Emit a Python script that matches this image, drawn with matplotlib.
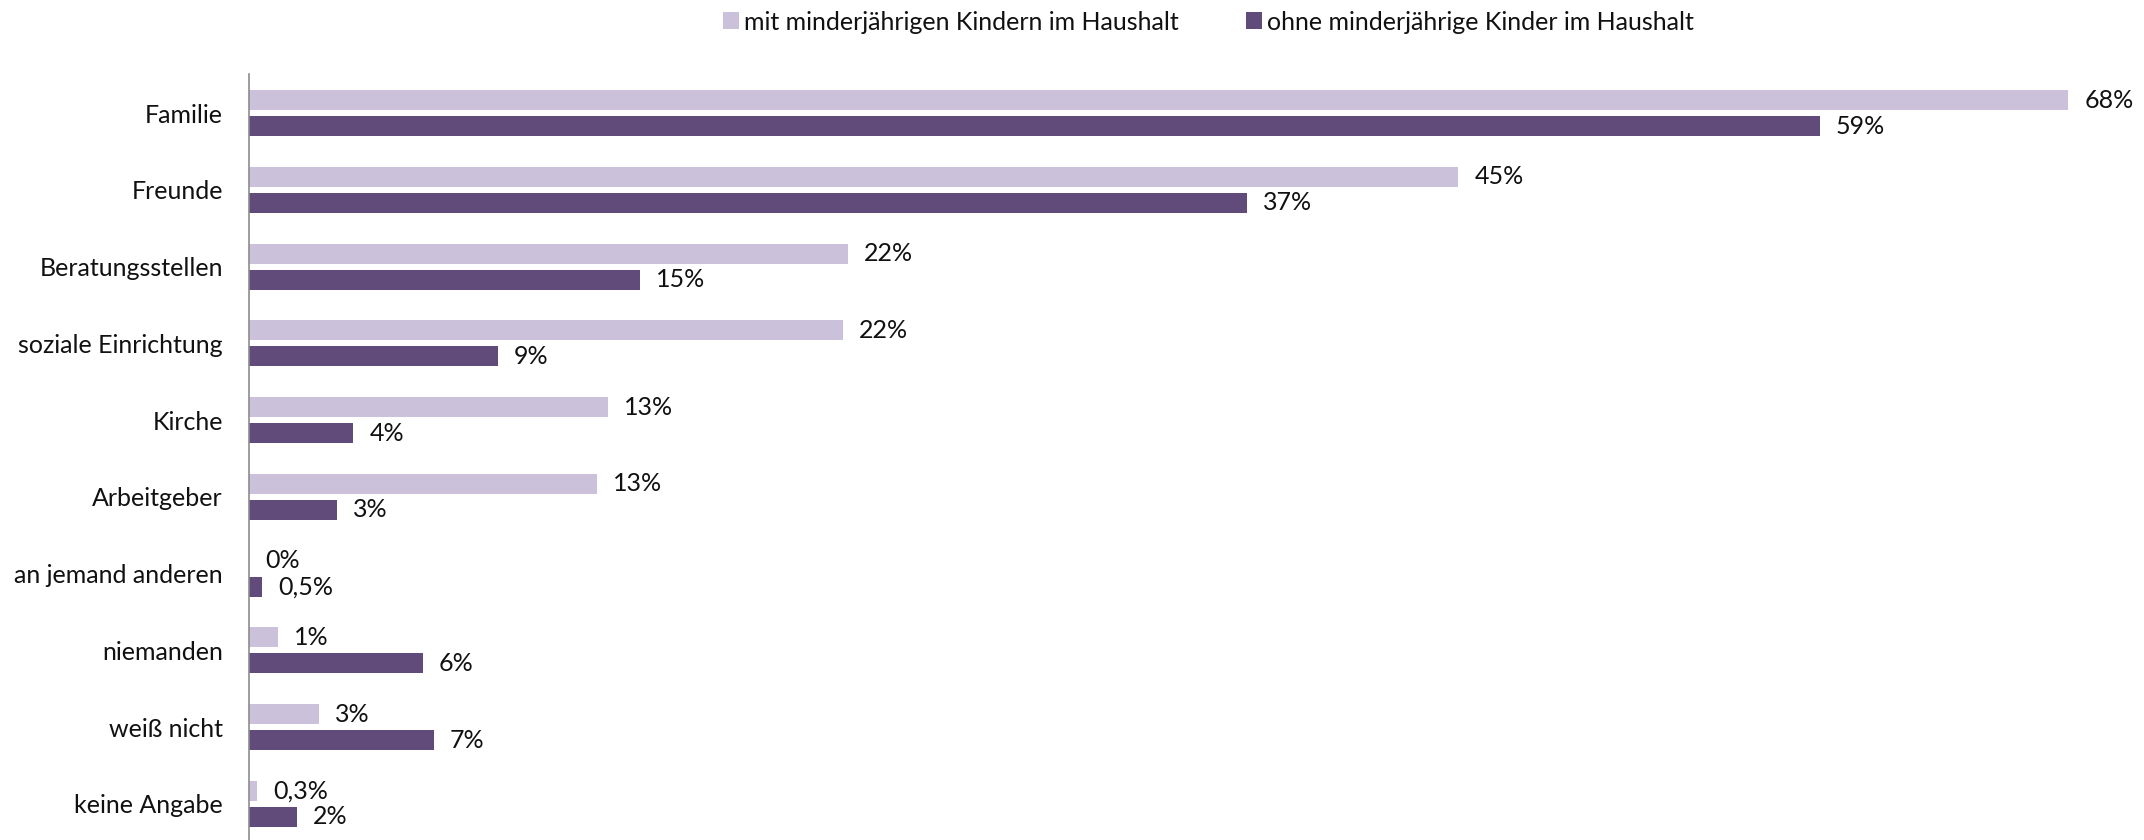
import matplotlib
matplotlib.use("Agg")
import matplotlib.pyplot as plt
import numpy as np

categories = ["Familie", "Freunde", "Beratungsstellen", "soziale Einrichtung", "Kirche",
              "Arbeitgeber", "an jemand anderen", "niemanden", "weiß nicht", "keine Angabe"]
series_names = ["mit minderjährigen Kindern im Haushalt", "ohne minderjährige Kinder im Haushalt"]
mit_kindern = [68.0, 45.2, 22.4, 22.2, 13.4, 13.0, 0.0, 1.1, 2.6, 0.3]
ohne_kinder = [58.7, 37.3, 14.6, 9.3, 3.9, 3.3, 0.5, 6.5, 6.9, 1.8]
mit_labels = ["68%", "45%", "22%", "22%", "13%", "13%", "0%", "1%", "3%", "0,3%"]
ohne_labels = ["59%", "37%", "15%", "9%", "4%", "3%", "0,5%", "6%", "7%", "2%"]

LIGHT = "#CBC1DB"
DARK = "#614B7A"
FONT = ["Lato", "DejaVu Sans"]
FS = 18

plt.rcParams['font.family'] = FONT

W, H = 2144, 840
fig = plt.figure(figsize=(W / 100, H / 100), dpi=100)
ax_left = 249 / W
ax_right = 2122 / W
ax = fig.add_axes([ax_left, 0.0, ax_right - ax_left, 1 - 74 / H])

y = np.arange(len(categories))
bh = 0.26
off = 0.169
b1 = ax.barh(y - off, mit_kindern, height=bh, color=LIGHT, label=series_names[0])
b2 = ax.barh(y + off, ohne_kinder, height=bh, color=DARK, label=series_names[1])

ax.set_xlim(0, 70)
ax.set_ylim(9.47, -0.51)
ax.set_yticks(y)
ax.set_yticklabels(categories, fontsize=FS, color="#111111")
ax.tick_params(axis='y', length=0, pad=26 * 0.72)
ax.set_xticks([])
for s in ["top", "right", "bottom"]:
    ax.spines[s].set_visible(False)
ax.spines["left"].set_color("#8c8c8c")
ax.spines["left"].set_linewidth(1.2)

px_per_unit = (2122 - 249) / 70.0
gap = 16 / px_per_unit
for yi, v, lab in zip(y, mit_kindern, mit_labels):
    ax.text(v + gap, yi - off, lab, va="center", ha="left", fontsize=FS, color="#111111")
for yi, v, lab in zip(y, ohne_kinder, ohne_labels):
    ax.text(v + gap, yi + off, lab, va="center", ha="left", fontsize=FS, color="#111111")

leg = fig.legend(handles=[b1, b2], labels=series_names, loc="center",
                 bbox_to_anchor=(0.5 * (724 + 1693) / W, 1 - 22 / H), ncol=2, frameon=False,
                 fontsize=FS, handlelength=0.65, handleheight=0.65, handletextpad=0.2,
                 columnspacing=2.7)
for t in leg.get_texts():
    t.set_color("#111111")

fig.savefig("out.png", dpi=100)
